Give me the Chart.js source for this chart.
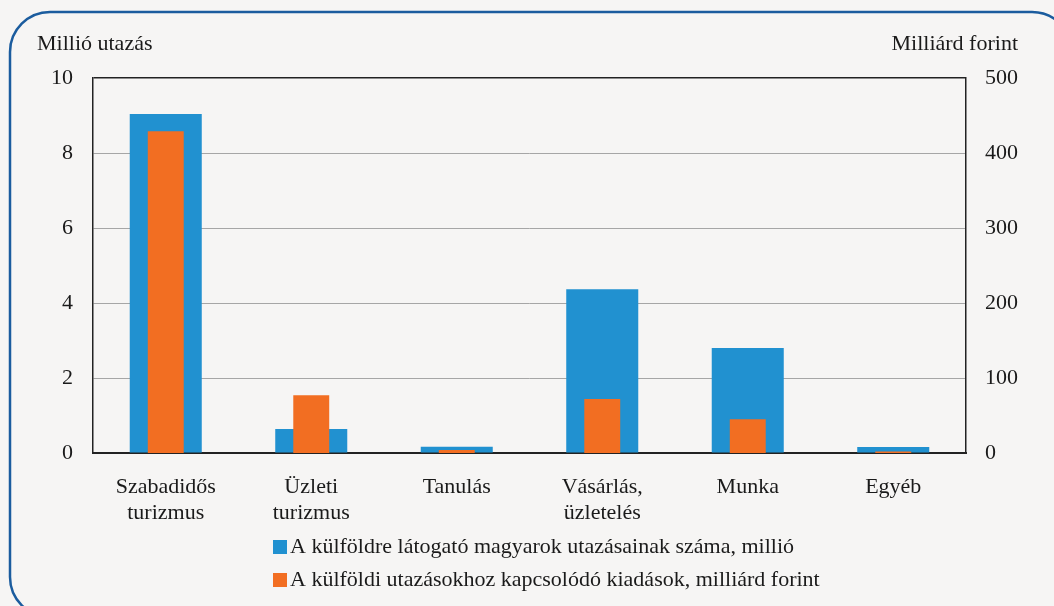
<!DOCTYPE html>
<html>
<head>
<meta charset="utf-8">
<script src="https://cdn.jsdelivr.net/npm/chart.js@4"></script>
<style>
  html, body { margin: 0; padding: 0; background: #f6f5f4; }
  #wrap { width: 1054px; height: 606px; position: relative; }
</style>
</head>
<body>
<div id="wrap"><canvas id="travelChart" width="1054" height="606"></canvas></div>
<script>
const categories = [['Szabadidős', 'turizmus'], ['Üzleti', 'turizmus'], 'Tanulás', ['Vásárlás,', 'üzletelés'], 'Munka', 'Egyéb'];
const tripsMillion = [9.04, 0.64, 0.17, 4.37, 2.8, 0.16];
const spendingBillionHuf = [429, 77, 4, 72, 45, 2];
const leftTicks = [0, 2, 4, 6, 8, 10];
const rightTicks = [0, 100, 200, 300, 400, 500];

const FONT = "'Liberation Serif', 'DejaVu Serif', serif";
const FSIZE = 22;
const BLUE = '#2191d0';
const ORANGE = '#f26e22';

// frame, axis titles and the stacked legend
const decor = {
    id: 'decor',
    beforeDraw(chart) {
        const c = chart.ctx;
        c.save();
        c.fillStyle = '#f6f5f4';
        c.fillRect(0, 0, chart.width, chart.height);
        c.strokeStyle = '#1b5c9e';
        c.lineWidth = 2.5;
        c.beginPath();
        c.roundRect(10, 12, 1062, 605, 40);
        c.stroke();
        c.restore();
    },
    afterDraw(chart) {
        const c = chart.ctx;
        c.save();
        c.fillStyle = '#1a1a1a';
        c.font = FSIZE + 'px ' + FONT;
        c.textBaseline = 'alphabetic';
        c.textAlign = 'left';
        c.fillText('Millió utazás', 37, 50);
        c.textAlign = 'right';
        c.fillText('Milliárd forint', 1018, 50);

        c.textAlign = 'left';
        c.textBaseline = 'middle';
        chart.data.datasets.forEach(function (ds, i) {
            const y = 547 + i * 33;
            c.fillStyle = ds.backgroundColor;
            c.fillRect(273, y - 7, 14, 14);
            c.fillStyle = '#1a1a1a';
            c.fillText(ds.label, 290, y);
        });
        c.restore();
    }
};

new Chart(document.getElementById('travelChart'), {
    type: 'bar',
    data: {
        labels: categories,
        datasets: [{
            label: 'A külföldre látogató magyarok utazásainak száma, millió',
            data: tripsMillion,
            backgroundColor: BLUE,
            yAxisID: 'y',
            grouped: false,
            order: 1,
            barPercentage: 0.495,
            categoryPercentage: 1
        }, {
            label: 'A külföldi utazásokhoz kapcsolódó kiadások, milliárd forint',
            data: spendingBillionHuf,
            backgroundColor: ORANGE,
            yAxisID: 'y1',
            grouped: false,
            order: 0,
            barPercentage: 0.247,
            categoryPercentage: 1
        }]
    },
    options: {
        responsive: false,
        animation: false,
        layout: { padding: { top: 78, left: 0, right: 0, bottom: 0 } },
        plugins: {
            legend: { display: false },
            tooltip: { enabled: false }
        },
        scales: {
            x: {
                grid: { display: false },
                border: { color: '#222', width: 2 },
                ticks: {
                    color: '#1a1a1a',
                    padding: 13,
                    maxRotation: 0,
                    autoSkip: false,
                    font: { family: FONT, size: FSIZE, lineHeight: 1.18 }
                },
                afterFit(axis) { axis.height = 153; }
            },
            y: {
                position: 'left',
                min: 0,
                max: 10,
                afterBuildTicks(axis) { axis.ticks = leftTicks.map(v => ({ value: v })); },
                grid: {
                    drawTicks: false,
                    color: ctx => ctx.tick.value === 10 ? '#222' : (ctx.tick.value === 0 ? 'rgba(0,0,0,0)' : '#a6a6a6'),
                    lineWidth: ctx => ctx.tick.value === 10 ? 1.5 : 1
                },
                border: { color: '#222', width: 1.5 },
                ticks: {
                    color: '#1a1a1a',
                    padding: 20,
                    font: { family: FONT, size: FSIZE }
                },
                afterFit(axis) { axis.width = 93; }
            },
            y1: {
                position: 'right',
                min: 0,
                max: 500,
                afterBuildTicks(axis) { axis.ticks = rightTicks.map(v => ({ value: v })); },
                grid: { display: false, drawTicks: false },
                border: { color: '#222', width: 1.5 },
                ticks: {
                    color: '#1a1a1a',
                    padding: 19,
                    font: { family: FONT, size: FSIZE }
                },
                afterFit(axis) { axis.width = 88; }
            }
        }
    },
    plugins: [decor]
});
</script>
</body>
</html>
